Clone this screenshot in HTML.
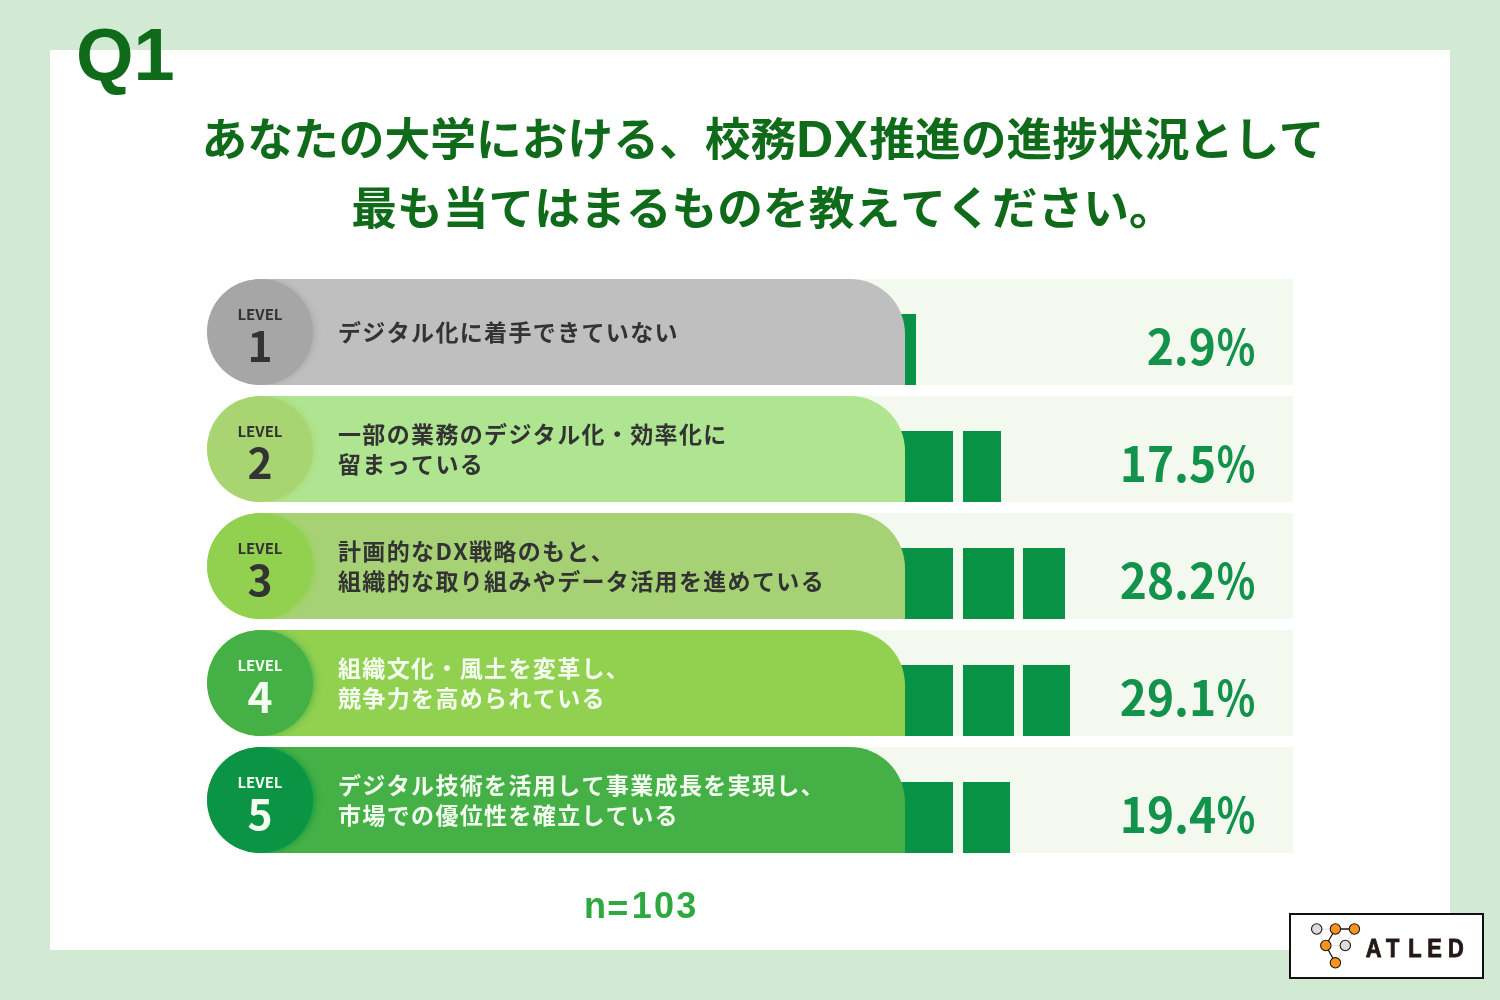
<!DOCTYPE html>
<html lang="ja">
<head>
<meta charset="utf-8">
<title>Q1 校務DX推進の進捗状況</title>
<style>
*{box-sizing:border-box;margin:0;padding:0}
html,body{width:1500px;height:1000px;overflow:hidden}
body{background:#d2e9d3;position:relative;font-kerning:none;font-family:"Liberation Sans","Noto Sans CJK JP",sans-serif}
.panel{position:absolute;left:50px;top:50px;width:1400px;height:900px;background:#fff}
.q1{position:absolute;left:76px;top:12px;font:bold 74px/86px "Liberation Sans",sans-serif;color:#0f6b1a;letter-spacing:0;white-space:nowrap}
.title{position:absolute;left:0;top:103px;width:1500px;text-align:center;color:#0f6b1a;font-family:"Liberation Sans","Noto Sans CJK JP",sans-serif;font-weight:700;font-size:45.75px;line-height:70px;white-space:nowrap}
.title .l1{position:absolute;left:201.4px;top:3px}
.title .l2{position:absolute;left:351.3px;top:72px}
.title .dx{font-size:51.2px;letter-spacing:.6px;margin-right:.9px;position:relative;top:.5px;line-height:1}
.row{position:absolute;left:207px;width:1086px;height:106px}
.r1{top:279px}.r2{top:396px}.r3{top:513px}.r4{top:630px}.r5{top:747px}
.track{position:absolute;left:640px;top:0;width:446px;height:106px;background:#f4f9ef}
.seg{position:absolute;top:35px;height:71px;background:#079245}
.pill{position:absolute;left:0;top:0;width:698px;height:106px;border-radius:53px 55px 0 53px;overflow:hidden}
.circle{position:absolute;left:0;top:0;width:106px;height:106px;border-radius:50%;box-shadow:2px 0 7px -1px currentColor}
.lv{position:absolute;left:0;top:27px;width:106px;text-align:center;font:bold 15px/16px "Noto Sans CJK JP",sans-serif;color:#333}
.num{position:absolute;left:0;top:39px;width:106px;text-align:center;font:bold 42.5px/52px "Noto Sans CJK JP",sans-serif;color:#333}
.txt{position:absolute;left:131px;top:-1.5px;height:106px;display:flex;flex-direction:column;justify-content:center;font-family:"Noto Sans CJK JP",sans-serif;font-weight:700;font-size:23px;line-height:30px;letter-spacing:1.35px;color:#333;white-space:nowrap}
.w .lv,.w .num,.w .txt{color:#f4fff2}
.pct{position:absolute;right:38px;top:30px;height:70px;line-height:70px;font-family:"Noto Sans CJK JP",sans-serif;font-weight:700;font-size:48px;color:#12924a;white-space:nowrap;transform:scaleX(.959);transform-origin:100% 50%}
.pct i{font-style:normal;display:inline-block;transform:scaleX(.87);transform-origin:100% 50%;margin-left:-5.5px}
.n{position:absolute;left:584px;top:885px;font:bold 36px/42px "Liberation Sans",sans-serif;color:#2ea83f;letter-spacing:2.3px;white-space:nowrap}
.logo{position:absolute;left:1289px;top:913px;width:195px;height:66px}
</style>
</head>
<body>
<div class="panel"></div>
<div class="q1">Q1</div>
<div class="title"><span class="l1">あなたの大学における、校務<span class="dx">DX</span>推進の進捗状況<span style="margin-left:-1.5px;letter-spacing:-.4px">として</span></span><span class="l2">最も当てはまるものを教えてください。</span></div>

<div class="row r1">
  <div class="track"></div>
  <div class="seg" style="left:690px;width:19px"></div>
  <div class="pill" style="background:#bfbfbf"><div class="circle" style="background:#a6a6a6;color:#a6a6a6"></div></div>
  <div class="lv">LEVEL</div><div class="num">1</div>
  <div class="txt"><span>デジタル化に着手できていない</span></div>
  <div class="pct">2.9<i>%</i></div>
</div>

<div class="row r2">
  <div class="track"></div>
  <div class="seg" style="left:690px;width:56px"></div>
  <div class="seg" style="left:755.5px;width:38.3px"></div>
  <div class="pill" style="background:#afe591"><div class="circle" style="background:#a8d572;color:#a8d572"></div></div>
  <div class="lv">LEVEL</div><div class="num">2</div>
  <div class="txt"><span>一部の業務のデジタル化・効率化に</span><span>留まっている</span></div>
  <div class="pct">17.5<i>%</i></div>
</div>

<div class="row r3">
  <div class="track"></div>
  <div class="seg" style="left:690px;width:56px"></div>
  <div class="seg" style="left:755.5px;width:51.1px"></div>
  <div class="seg" style="left:816.2px;width:41.5px"></div>
  <div class="pill" style="background:#a6d275"><div class="circle" style="background:#92d050;color:#92d050"></div></div>
  <div class="lv">LEVEL</div><div class="num">3</div>
  <div class="txt"><span>計画的なDX戦略のもと、</span><span>組織的な取り組みやデータ活用を進めている</span></div>
  <div class="pct">28.2<i>%</i></div>
</div>

<div class="row r4 w">
  <div class="track"></div>
  <div class="seg" style="left:690px;width:56px"></div>
  <div class="seg" style="left:755.5px;width:51.1px"></div>
  <div class="seg" style="left:816.2px;width:46.6px"></div>
  <div class="pill" style="background:#92d050"><div class="circle" style="background:#44b045;color:#44b045"></div></div>
  <div class="lv">LEVEL</div><div class="num">4</div>
  <div class="txt"><span>組織文化・風土を変革し、</span><span>競争力を高められている</span></div>
  <div class="pct">29.1<i>%</i></div>
</div>

<div class="row r5 w">
  <div class="track"></div>
  <div class="seg" style="left:690px;width:56px"></div>
  <div class="seg" style="left:755.5px;width:47.9px"></div>
  <div class="pill" style="background:#44b045"><div class="circle" style="background:#0a9444;color:#0a9444"></div></div>
  <div class="lv">LEVEL</div><div class="num">5</div>
  <div class="txt"><span>デジタル技術を活用して事業成長を実現し、</span><span>市場での優位性を確立している</span></div>
  <div class="pct">19.4<i>%</i></div>
</div>

<div class="n">n<span style="position:relative;top:3px;left:-1px">=</span>103</div>

<svg class="logo" viewBox="0 0 195 66">
  <rect x="1" y="1" width="193" height="64" fill="#fff" stroke="#111" stroke-width="2"/>
  <g stroke="#e4e0e0" stroke-width="1" fill="none">
    <path d="M27.7 16H46.4M27.7 16L36.8 32.5M46.4 16L56.3 32.5M65.4 16L56.3 32.5M36.8 32.5H56.3M56.3 32.5L46.4 49.8"/>
  </g>
  <g stroke="#231815" stroke-width="1.3" fill="none">
    <path d="M46.4 16H65.4M46.4 16L36.8 32.5L46.4 49.8"/>
  </g>
  <g stroke="#231815" stroke-width="1.1">
    <circle cx="27.7" cy="16" r="5.2" fill="#dcdcdc"/>
    <circle cx="46.4" cy="16" r="5.2" fill="#f7931e"/>
    <circle cx="65.4" cy="16" r="5.2" fill="#f7931e"/>
    <circle cx="36.8" cy="32.5" r="5.2" fill="#f7931e"/>
    <circle cx="56.3" cy="32.5" r="5.2" fill="#dcdcdc"/>
    <circle cx="46.4" cy="49.8" r="5.2" fill="#f7931e"/>
  </g>
  <g transform="translate(0 44.2) scale(0.85 1)" style="font:bold 25.7px 'Liberation Sans',sans-serif" fill="#231815">
    <text x="90.4 114 140.2 162.7 187" y="0" stroke="#231815" stroke-width="0.9" stroke-linejoin="miter">ATLED</text>
  </g>
</svg>
</body>
</html>
